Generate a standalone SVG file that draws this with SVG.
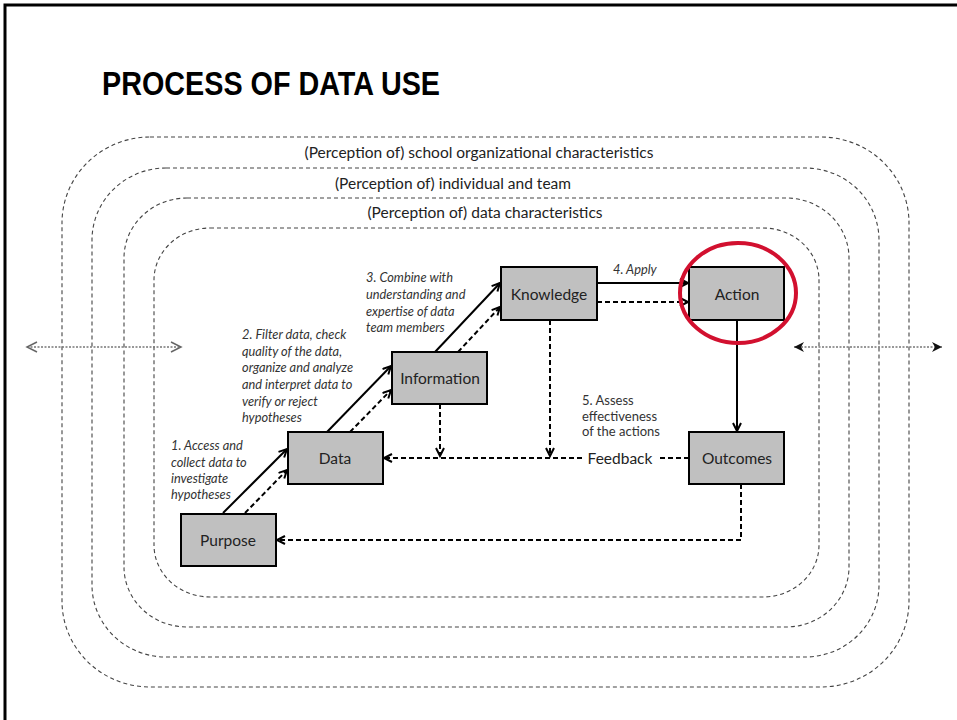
<svg xmlns="http://www.w3.org/2000/svg" width="957" height="720" viewBox="0 0 957 720">
<defs>
<style>
.ring{fill:none;stroke:#444;stroke-width:1.1;stroke-dasharray:4,3}
.ringlbl{font-family:Lato,"Open Sans",sans-serif;font-size:15.5px;fill:#222;text-anchor:middle}
.node rect{fill:#c0c0c0;stroke:#000;stroke-width:2}
.node text{font-family:Lato,"Open Sans",sans-serif;font-size:15.5px;fill:#222;text-anchor:middle;dominant-baseline:central}
.solid{fill:none;stroke:#000;stroke-width:2}
.dash{fill:none;stroke:#000;stroke-width:2;stroke-dasharray:5,3}
.note{font-family:Lato,"Open Sans",sans-serif;font-size:12.8px;font-style:italic;fill:#333}
.note2{font-family:Lato,"Open Sans",sans-serif;font-size:13px;fill:#333}
.side{fill:none;stroke:#777;stroke-width:1.3;stroke-dasharray:2,1.5}
</style>
<marker id="ah" markerUnits="userSpaceOnUse" markerWidth="12" markerHeight="12" refX="9" refY="5" orient="auto">
<path d="M1,1 L9,5 L1,9" fill="none" stroke="#000" stroke-width="2"/>
</marker>
<marker id="ahg" markerUnits="userSpaceOnUse" markerWidth="14" markerHeight="14" refX="11" refY="6" orient="auto-start-reverse">
<path d="M1,1 L11,6 L1,11" fill="none" stroke="#666" stroke-width="1.5"/>
</marker>
<marker id="ahf" markerUnits="userSpaceOnUse" markerWidth="14" markerHeight="14" refX="10" refY="5" orient="auto-start-reverse">
<path d="M0,0 L10,5 L0,10 L3,5 Z" fill="#111"/>
</marker>
</defs>
<rect width="957" height="720" fill="#fff"/>
<path d="M5,720 V5 H957" fill="none" stroke="#000" stroke-width="3"/>
<text x="102" y="95" font-family="'Liberation Sans',Arial,sans-serif" font-weight="bold" font-size="33" textLength="338" lengthAdjust="spacingAndGlyphs" fill="#000">PROCESS OF DATA USE</text>

<g id="rings">
<rect class="ring" x="62" y="137" width="847" height="550" rx="88" ry="86"/>
<rect class="ring" x="92" y="168" width="787" height="489" rx="74" ry="72"/>
<rect class="ring" x="124" y="198" width="725" height="429" rx="63" ry="60"/>
<rect class="ring" x="154" y="228" width="665" height="369" rx="56" ry="52"/>
<text class="ringlbl" x="479" y="158">(Perception of) school organizational characteristics</text>
<text class="ringlbl" x="453" y="189">(Perception of) individual and team</text>
<text class="ringlbl" x="485" y="218">(Perception of) data characteristics</text>
</g>

<g id="side-arrows">
<line class="side" x1="27" y1="347" x2="181" y2="347" marker-start="url(#ahg)" marker-end="url(#ahg)"/>
<line class="side" x1="794" y1="347" x2="942" y2="347" marker-start="url(#ahf)" marker-end="url(#ahf)"/>
</g>

<g id="connectors">
<line class="solid" x1="223" y1="513" x2="287" y2="449" marker-end="url(#ah)"/>
<line class="dash" x1="245" y1="513" x2="287" y2="470" marker-end="url(#ah)"/>
<line class="solid" x1="327" y1="432" x2="391" y2="366" marker-end="url(#ah)"/>
<line class="dash" x1="350" y1="432" x2="391" y2="390" marker-end="url(#ah)"/>
<line class="solid" x1="435" y1="352" x2="500" y2="283" marker-end="url(#ah)"/>
<line class="dash" x1="458" y1="352" x2="500" y2="307" marker-end="url(#ah)"/>
<line class="solid" x1="597" y1="283" x2="688" y2="283" marker-end="url(#ah)"/>
<line class="dash" x1="597" y1="302" x2="688" y2="302" marker-end="url(#ah)"/>
<line class="solid" x1="737" y1="320" x2="737" y2="431" marker-end="url(#ah)"/>
<line class="dash" x1="550" y1="320" x2="550" y2="456" marker-end="url(#ah)"/>
<line class="dash" x1="440" y1="404" x2="440" y2="456" marker-end="url(#ah)"/>
<line class="dash" x1="689" y1="458" x2="658" y2="458"/>
<line class="dash" x1="582" y1="458" x2="384" y2="458" marker-end="url(#ah)"/>
<path class="dash" d="M741,484 V540 H277" marker-end="url(#ah)"/>
<text x="620" y="458" font-family="Lato,'Open Sans',sans-serif" font-size="15.5" fill="#222" text-anchor="middle" dominant-baseline="central">Feedback</text>
<text class="note" x="613" y="274">4. Apply</text>
</g>

<g id="notes">
<text class="note" x="171" y="450">1. Access and</text>
<text class="note" x="171" y="467">collect data to</text>
<text class="note" x="171" y="483">investigate</text>
<text class="note" x="171" y="499">hypotheses</text>
<text class="note" x="242" y="339">2. Filter data, check</text>
<text class="note" x="242" y="356">quality of the data,</text>
<text class="note" x="242" y="372">organize and analyze</text>
<text class="note" x="242" y="389">and interpret  data to</text>
<text class="note" x="242" y="406">verify or reject</text>
<text class="note" x="242" y="422">hypotheses</text>
<text class="note" x="366" y="282">3. Combine with</text>
<text class="note" x="366" y="299">understanding and</text>
<text class="note" x="366" y="316">expertise  of data</text>
<text class="note" x="366" y="332">team members</text>
<text class="note2" x="582" y="405">5. Assess</text>
<text class="note2" x="582" y="421">effectiveness</text>
<text class="note2" x="582" y="436">of the actions</text>
</g>

<g id="purpose" class="node"><rect x="181" y="514" width="95" height="52"/><text x="228" y="540">Purpose</text></g>
<g id="data" class="node"><rect x="288" y="432" width="95" height="52"/><text x="335" y="458">Data</text></g>
<g id="information" class="node"><rect x="392" y="352" width="95" height="52"/><text x="440" y="378">Information</text></g>
<g id="knowledge" class="node"><rect x="501" y="267" width="96" height="53"/><text x="549" y="294">Knowledge</text></g>
<g id="action" class="node"><rect x="689" y="267" width="95" height="53"/><text x="737" y="294">Action</text></g>
<g id="outcomes" class="node"><rect x="689" y="432" width="95" height="52"/><text x="737" y="458">Outcomes</text></g>

<ellipse id="highlight" cx="738" cy="293" rx="58" ry="50" fill="none" stroke="#d2102f" stroke-width="4"/>
</svg>
